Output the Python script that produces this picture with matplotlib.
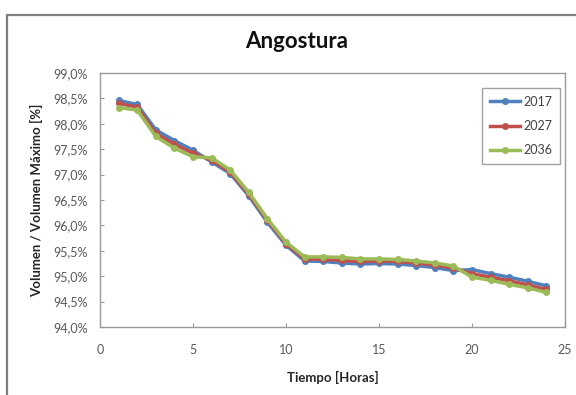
import matplotlib
matplotlib.use("Agg")
import matplotlib.pyplot as plt
from matplotlib.patches import Rectangle
from matplotlib.ticker import FuncFormatter

plt.rcParams['font.family'] = ['Lato', 'DejaVu Sans']

# hours 1..24
horas = list(range(1, 25))

# volumen / volumen maximo [%]
v2017 = [98.46, 98.38, 97.88, 97.67, 97.48, 97.25, 97.02, 96.58, 96.06, 95.61,
         95.30, 95.29, 95.26, 95.24, 95.25, 95.24, 95.21, 95.17, 95.11, 95.13,
         95.05, 94.98, 94.90, 94.81]
v2027 = [98.40, 98.33, 97.81, 97.60, 97.42, 97.28, 97.05, 96.61, 96.10, 95.64,
         95.34, 95.33, 95.31, 95.29, 95.30, 95.29, 95.26, 95.22, 95.16, 95.05,
         94.98, 94.91, 94.83, 94.74]
v2036 = [98.32, 98.27, 97.75, 97.52, 97.35, 97.33, 97.09, 96.65, 96.13, 95.67,
         95.38, 95.38, 95.37, 95.34, 95.34, 95.33, 95.30, 95.26, 95.20, 94.98,
         94.92, 94.84, 94.77, 94.68]

series = [("2017", v2017, "#4F81BD"),
          ("2027", v2027, "#C0504D"),
          ("2036", v2036, "#9BBB59")]

fig = plt.figure(figsize=(5.76, 3.95), dpi=100)

# chart frame (runs off the right/bottom of the picture)
fig.patches.append(Rectangle((7 / 576, -0.2), 1.2, 0.2 + (395 - 15) / 395,
                             transform=fig.transFigure, fill=False,
                             edgecolor="#7f7f7f", lw=1.6))

ax = fig.add_axes([100 / 576, (395 - 327) / 395, 465 / 576, 254 / 395])

for name, vals, col in series:
    ax.plot(horas, vals, color=col, lw=2.5, marker="o", markersize=4,
            label=name)

ax.set_xlim(0, 25)
ax.set_ylim(94.0, 99.0)
ax.set_xticks([0, 5, 10, 15, 20, 25])
ax.set_yticks([94.0 + 0.5 * i for i in range(11)])
ax.yaxis.set_major_formatter(
    FuncFormatter(lambda v, p: f"{v:.1f}%".replace(".", ",")))

for s in ax.spines.values():
    s.set_color("#9a9a9a")
    s.set_linewidth(1.0)
ax.tick_params(direction="in", length=3, color="#9a9a9a",
               labelsize=9, labelcolor="#595959")
ax.tick_params(axis="y", pad=9)
ax.tick_params(axis="x", pad=12)

ax.set_xlabel("Tiempo [Horas]", fontsize=9.5, fontweight="bold",
              color="#262626", labelpad=11)
ax.set_ylabel("Volumen / Volumen Máximo [%]", fontsize=9.5,
              fontweight="bold", color="#262626", labelpad=7)
fig.text(297 / 576, 1 - 42 / 395, "Angostura", ha="center", va="center",
         fontsize=16, fontweight="bold", color="#111111")

leg = ax.legend(loc="upper left", bbox_to_anchor=(482 / 576, 1 - 88 / 395),
                bbox_transform=fig.transFigure, fontsize=9, frameon=True,
                fancybox=False, handlelength=2.4, borderpad=0.6,
                labelspacing=1.0, handletextpad=0.3, borderaxespad=0)
leg.get_frame().set_edgecolor("#8c8c8c")
leg.get_frame().set_linewidth(1.0)
for t in leg.get_texts():
    t.set_color("#404040")

fig.savefig("out.png", dpi=100)
